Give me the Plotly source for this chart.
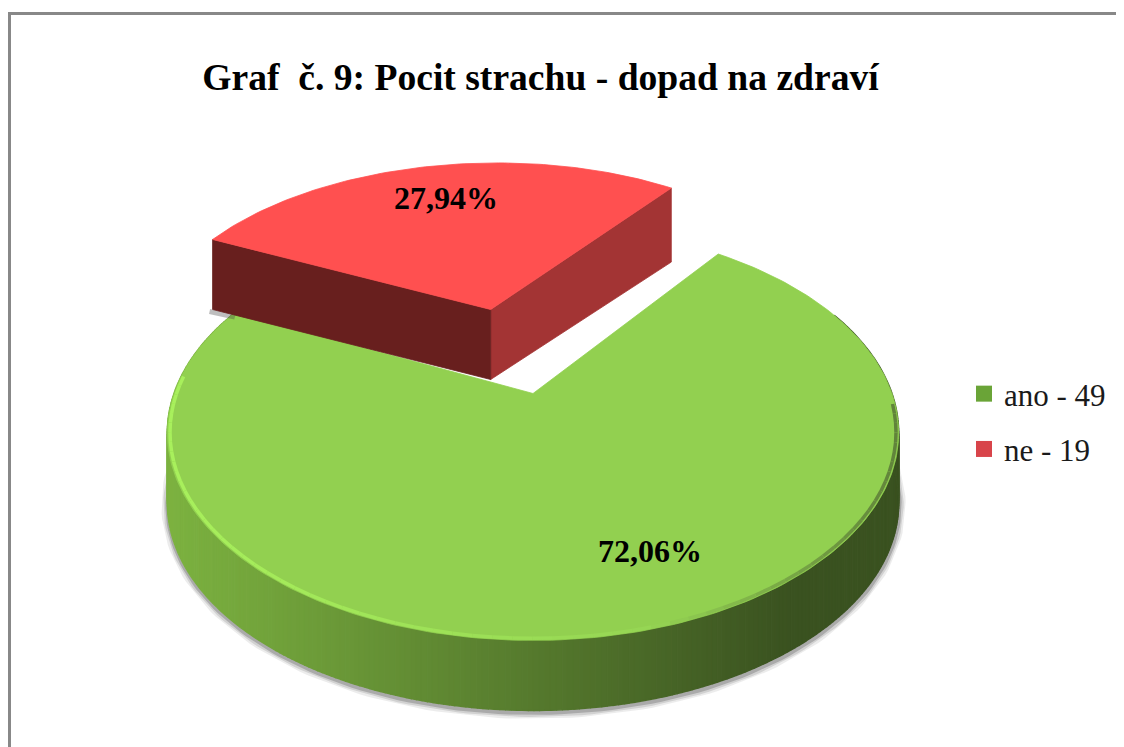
import numpy as np
import plotly.graph_objects as go

title = "Graf  č. 9: Pocit strachu - dopad na zdraví"
categories = ["ano", "ne"]
values = [49, 19]
top_colors = ["#92d050", "#ff5050"]

# geometry of the tilted disc (plot units = window pixels; the page has an 8 px body margin)
CX, CY, AX, BY, K = 533.0, 393.5, 359.0, 200.0, 0.19
DEPTH = 70.0
PULL = 0.47
RED_SCALE = 1.02
RED_NUDGE = -0.016
START_NE = 53.5
PAGE = 8
W, H = 1124 - PAGE, 747 - PAGE

total = sum(values)
sweeps = [v / total * 360 for v in values]
percent = [f"{v / total * 100:.2f}".replace(".", ",") + "%" for v in values]


def project(u, v):
    w = 1 + K * np.asarray(v)
    return CX + AX * np.asarray(u) / w, CY - BY * np.asarray(v) / w


def rim(a0, a1, n, ox=0.0, oy=0.0, scale=1.0):
    t = np.radians(np.linspace(a0, a1, n))
    return project(ox + scale * np.cos(t), oy + scale * np.sin(t))


def poly(x, y, color, line=0.8):
    return go.Scatter(x=list(x), y=list(y), mode="lines", fill="toself", fillcolor=color,
                      line=dict(color=color, width=line), showlegend=False, hoverinfo="skip")


def mix(c0, c1, t):
    t = float(np.clip(t, 0, 1))
    return "rgb(" + ",".join(str(int(round(a + (b - a) * t))) for a, b in zip(c0, c1)) + ")"


def px_x(p):
    return (p - PAGE) / W


def px_y(p):
    return 1 - (p - PAGE) / H


fig = go.Figure()

ne_a0, ne_a1 = START_NE, START_NE + sweeps[1]
ano_a0, ano_a1 = ne_a1, START_NE + 360

# soft shadow under the green slab
sx, sy = rim(165, 378, 160)
for width, alpha in [(13, 0.10), (9, 0.16), (5, 0.28)]:
    fig.add_trace(go.Scatter(x=list(sx + 0.5), y=list(sy + DEPTH + 2), mode="lines",
                             line=dict(color=f"rgba(70,70,70,{alpha})", width=width),
                             showlegend=False, hoverinfo="skip"))

# green side wall, shaded along its width
SIDE_L, SIDE_R = (124, 178, 64), (58, 82, 32)
edges = np.linspace(150, 385, 320)
for a, b in zip(edges[:-1], edges[1:]):
    x, y = rim(a, b, 3)
    t = (float(np.mean(x)) - 170) / 620
    fig.add_trace(poly(list(x) + list(x[::-1]), list(y) + list((y + DEPTH)[::-1]), mix(SIDE_L, SIDE_R, t), line=1.5))

# green top face
x, y = rim(ano_a0, ano_a1, 240)
fig.add_trace(poly([CX, *x, CX], [CY, *y, CY], top_colors[0]))

# bevel along the front rim
edges = np.linspace(175, 357, 70)
for a, b in zip(edges[:-1], edges[1:]):
    x, y = rim(a, b, 4, scale=0.993)
    t = (float(np.mean(x)) - 170) / 730
    col = mix((168, 240, 92), (150, 214, 84), t / 0.65) if t < 0.65 else mix((150, 214, 84), (96, 130, 58), (t - 0.65) / 0.35)
    fig.add_trace(go.Scatter(x=list(x), y=list(y), mode="lines", line=dict(color=col, width=3.5),
                             showlegend=False, hoverinfo="skip"))

# red slice, pulled out along its bisector
mid = np.radians((ne_a0 + ne_a1) / 2)
ox, oy = PULL * np.cos(mid) + RED_NUDGE, PULL * np.sin(mid)
tx, ty = project(ox, oy)
ax, ay = rim(ne_a0, ne_a1, 90, ox, oy, RED_SCALE)

# small shadow where the red block overhangs the white background
fig.add_trace(go.Scatter(x=[ax[-1] - 3, ax[-1] + 0.08 * (tx - ax[-1])],
                         y=[ay[-1] + DEPTH + 2, ay[-1] + DEPTH + 2 + 0.08 * (ty - ay[-1])], mode="lines",
                         line=dict(color="rgba(70,70,70,0.35)", width=5), showlegend=False, hoverinfo="skip"))
fig.add_trace(poly([tx, ax[0], ax[0], tx, tx], [ty, ay[0], ay[0] + DEPTH + 4, ty + DEPTH, ty], "#a33434"))
fig.add_trace(poly([tx, ax[-1], ax[-1], tx, tx], [ty, ay[-1], ay[-1] + DEPTH, ty + DEPTH, ty], "#681f1e"))
fig.add_trace(poly([tx, *ax, tx], [ty, *ay, ty], top_colors[1]))

# legend entries
for name, v, col in zip(categories, values, ["#6aa437", "#d8444a"]):
    fig.add_trace(go.Scatter(x=[None], y=[None], mode="markers", name=f"{name} - {v}", legendgroup=name,
                             marker=dict(symbol="square", size=16, color=col), hoverinfo="skip"))

serif = "Liberation Serif"
fig.update_layout(
    width=W, height=H, autosize=False,
    margin=dict(l=0, r=0, t=0, b=0),
    paper_bgcolor="white", plot_bgcolor="white",
    font=dict(family=serif, color="#000000"),
    xaxis=dict(range=[PAGE, 1124], visible=False, fixedrange=True),
    yaxis=dict(range=[747, PAGE], visible=False, fixedrange=True),
    title=dict(text=f"<b>{title}</b>", x=px_x(540.5), xanchor="center", y=px_y(77), yanchor="middle",
               font=dict(family=serif, size=37.6, color="#000000")),
    legend=dict(x=px_x(964), y=px_y(421.5), xanchor="left", yanchor="middle",
                font=dict(family=serif, size=31, color="#1a1a1a"), tracegroupgap=12,
                bgcolor="rgba(0,0,0,0)"),
    annotations=[
        dict(x=650, y=551, xref="x", yref="y", text=f"<b>{percent[0]}</b>", showarrow=False,
             font=dict(family=serif, size=32, color="#000000")),
        dict(x=446, y=198, xref="x", yref="y", text=f"<b>{percent[1]}</b>", showarrow=False,
             font=dict(family=serif, size=32, color="#000000")),
    ],
    shapes=[dict(type="path", xref="x", yref="y", path="M 9.5 747 L 9.5 13.5 L 1124 13.5",
                 line=dict(color="#888888", width=3), layer="below")],
)

fig.write_html("out.html")
